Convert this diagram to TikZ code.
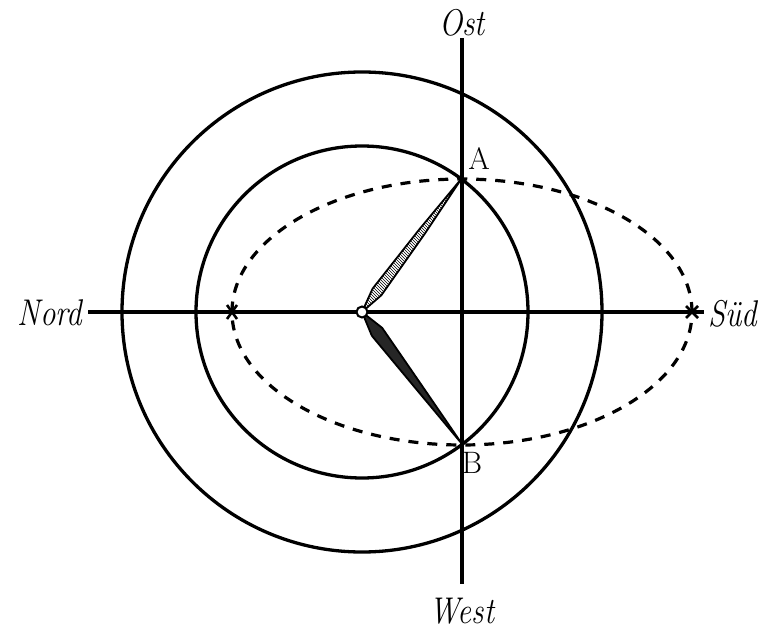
\documentclass[tikz,border=0pt]{standalone}
\usepackage{fontspec}
\usetikzlibrary{calc,patterns}
\begin{document}
\begin{tikzpicture}[x=1pt,y=-1pt,
  heavy/.style={line width=3.3pt},
  dashedline/.style={line width=3.2pt,dash pattern=on 10pt off 9pt},
  dirlabel/.style={font=\fontsize{31}{31}\selectfont\itshape,inner sep=0pt},
  ptlabel/.style={font=\fontsize{31}{31}\selectfont,inner sep=0pt}]
\useasboundingbox (0,0) rectangle (764,634);
\coordinate (H) at (362,312);
\coordinate (A) at (462,178);
\coordinate (B) at (462,444);
\coordinate (E) at (462,312);
\coordinate (X1) at (232,312);
\coordinate (X2) at (692,312);
\coordinate (Ntop) at (462,38);
\coordinate (Nbot) at (462,584);
\coordinate (Wl) at (88,312);
\coordinate (Er) at (704,312);
% axes
\draw[heavy] (Ntop) -- (Nbot);
\draw[heavy] (Wl) -- (Er);
% circles
\draw[heavy] (H) circle[radius=240pt];
\draw[heavy] (H) circle[radius=166pt];
% dashed ellipse
\draw[dashedline] (E) ellipse[x radius=230pt, y radius=133pt];
% crosses
\draw[line width=2.6pt] (X1) +(-5,-7) -- +(5,7) (X1) +(-5,7) -- +(5,-7);
\draw[line width=2.6pt] (X2) +(-6,-6) -- +(6,6) (X2) +(-6,6) -- +(6,-6);
% hands
\coordinate (Qa) at ($(H)!0.15!(A)$);
\coordinate (Ra) at ($(H)!0.6!(A)$);
\coordinate (Qb) at ($(H)!0.15!(B)$);
\coordinate (Rb) at ($(H)!0.55!(B)$);
\draw[line width=1.8pt,line join=round,pattern=north west lines,pattern color=black]
  (H) -- ($(Qa)!5.5pt!90:(A)$) -- ($(Ra)!3.5pt!90:(A)$) -- (A)
      -- ($(Ra)!3.5pt!-90:(A)$) -- ($(Qa)!5.5pt!-90:(A)$) -- cycle;
\draw[line width=1.8pt,line join=round,fill=black!85]
  (H) -- ($(Qb)!6.5pt!90:(B)$) -- ($(Rb)!3.5pt!90:(B)$) -- (B)
      -- ($(Rb)!3.5pt!-90:(B)$) -- ($(Qb)!6.5pt!-90:(B)$) -- cycle;
\node[circle,draw,line width=2pt,fill=white,minimum size=11pt,inner sep=0pt] (hub) at (H) {};
% labels
\node[dirlabel] (ost) at (462,23) {\scalebox{1}[1.2]{Ost}};
\node[dirlabel] (west) at (462,611) {\scalebox{1}[1.2]{West}};
\node[dirlabel] (nord) at (50,313) {\scalebox{1}[1.2]{Nord}};
\node[dirlabel] (sud) at (733,314) {\scalebox{1}[1.2]{Süd}};
\node[ptlabel] (la) at (479,159) {A};
\node[ptlabel] (lb) at (472,463) {B};
\end{tikzpicture}
\end{document}
